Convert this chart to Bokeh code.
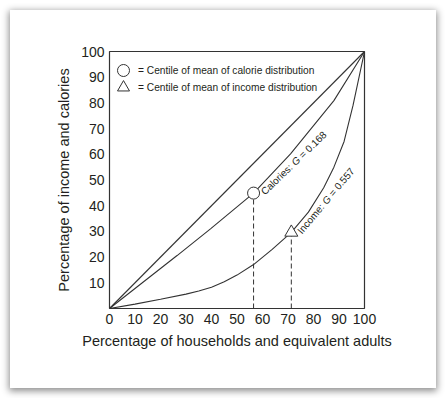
import math
from bokeh.plotting import figure
from bokeh.models import Range1d, FixedTicker, Label, Legend, LegendItem
from bokeh.embed import file_html
from bokeh.resources import INLINE

# ---- data ----
equality_x = [0, 100]
equality_y = [0, 100]

calorie_x = [0, 13.5, 26.5, 39.6, 56.5, 71, 88, 100]
calorie_y = [0, 10.5, 20.6, 31, 44.9, 60.2, 80.9, 100]

income_x = [0, 10, 20, 30, 35, 40, 45, 50, 56.5, 63.8, 71.3, 78, 84, 88, 92, 95.5, 100]
income_y = [0, 1.7, 3.6, 5.6, 6.8, 8.3, 10.4, 13.0, 17.1, 23.0, 29.6, 37.5, 47, 55, 65, 79, 100]

calorie_mean_x = [56.5]
calorie_mean_y = [44.9]
income_mean_x = [71.3]
income_mean_y = [29.6]

calorie_gini = "0.168"
income_gini = "0.557"

x_ticks = [0, 10, 20, 30, 40, 50, 60, 70, 80, 90, 100]
y_ticks = [10, 20, 30, 40, 50, 60, 70, 80, 90, 100]

FONT = "Liberation Sans"
INK = "#231f20"
LINE = "#333333"

p = figure(width=426, height=378,
           x_range=Range1d(0, 100), y_range=Range1d(0, 100),
           output_backend="svg", toolbar_location=None,
           min_border_left=99, min_border_right=72,
           min_border_top=41, min_border_bottom=80)
p.styles = {"margin-left": "10px", "margin-top": "10px",
            "box-shadow": "0px 2px 7px 1px rgba(0,0,0,0.45)"}
p.background_fill_color = "white"
p.border_fill_color = "white"
p.xgrid.visible = False
p.ygrid.visible = False
p.outline_line_color = LINE
p.outline_line_width = 1.2

p.xaxis.ticker = FixedTicker(ticks=x_ticks)
p.yaxis.ticker = FixedTicker(ticks=y_ticks)
for ax in (p.xaxis[0], p.yaxis[0]):
    ax.axis_line_color = None
    ax.major_tick_line_color = None
    ax.minor_tick_line_color = None
    ax.major_tick_out = 0
    ax.major_tick_in = 0
    ax.major_label_text_font = FONT
    ax.major_label_text_font_size = "14px"
    ax.major_label_text_color = INK
    ax.major_label_standoff = 5
    ax.axis_label_text_font = FONT
    ax.axis_label_text_font_size = "14.5px"
    ax.axis_label_text_font_style = "normal"
    ax.axis_label_text_color = INK
    ax.axis_label_standoff = 6
p.xaxis.axis_label = "Percentage of households and equivalent adults"
p.yaxis.axis_label = "Percentage of income and calories"

# curves
p.line(equality_x, equality_y, line_color=LINE, line_width=1.1)
p.line(calorie_x, calorie_y, line_color=LINE, line_width=1.1)
p.line(income_x, income_y, line_color=LINE, line_width=1.1)

# dashed drop lines
p.segment(x0=calorie_mean_x, y0=[0], x1=calorie_mean_x, y1=calorie_mean_y,
          line_color=LINE, line_width=1, line_dash="5 3")
p.segment(x0=income_mean_x, y0=[0], x1=income_mean_x, y1=income_mean_y,
          line_color=LINE, line_width=1, line_dash="5 3")

circ = p.scatter(calorie_mean_x, calorie_mean_y, marker="circle", size=12,
                 fill_color="white", line_color=LINE, line_width=1)
tri = p.scatter(income_mean_x, income_mean_y, marker="triangle", size=13,
                fill_color="white", line_color=LINE, line_width=1)

legend_rows = [("= Centile of mean of calorie distribution", circ, 223),
               ("= Centile of mean of income distribution", tri, 206)]
for text, rend, vy in legend_rows:
    lg = Legend(items=[LegendItem(label=text, renderers=[rend])],
                location=(-1, vy), glyph_width=30, glyph_height=30,
                spacing=0, padding=0, margin=0, label_standoff=0,
                border_line_color=None, background_fill_alpha=0,
                label_text_font=FONT, label_text_font_size="10.2px",
                label_text_color=INK)
    p.add_layout(lg)


def curve_label(x, y, prefix, gini, angle_deg, ox, oy, prefix_w):
    th = math.radians(angle_deg)
    parts = [(prefix, "normal", 0.0), ("G", "italic", prefix_w),
             ("= " + gini, "normal", prefix_w + 7.78 + 2.78)]
    for txt, style, d in parts:
        p.add_layout(Label(x=x, y=y, text=txt, angle=th,
                           x_offset=ox + d * math.cos(th),
                           y_offset=oy + d * math.sin(th),
                           text_align="left", text_baseline="middle",
                           text_font=FONT, text_font_size="10px",
                           text_font_style=style, text_color=INK))


curve_label(calorie_mean_x[0], calorie_mean_y[0], "Calories:", calorie_gini,
            44, 9, 0, 42.23)
curve_label(income_mean_x[0], income_mean_y[0], "Income:", income_gini,
            50, 8, 0, 38.35)

open("out.html", "w").write(file_html(p, INLINE))
